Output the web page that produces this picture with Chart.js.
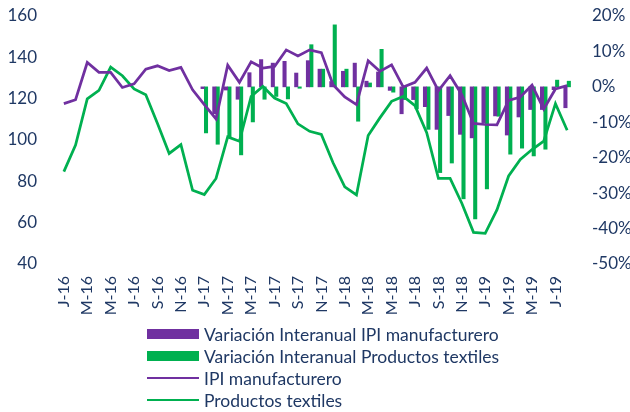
<!DOCTYPE html>
<html>
<head>
<meta charset="utf-8">
<script src="https://cdn.jsdelivr.net/npm/chart.js@4.4.1/dist/chart.umd.min.js"></script>
<style>
  html, body { margin: 0; padding: 0; background: #fff; }
  #wrap { position: relative; width: 630px; height: 412px; }
  canvas { position: absolute; left: 0; top: 0; }
  #legend { position: absolute; left: 147px; top: 323px; font-family: Lato, "Open Sans", sans-serif; font-size: 17.5px; color: #1f3864; }
  .row { height: 22px; display: flex; align-items: center; white-space: nowrap; }
  .sw { width: 52px; margin-right: 5px; }
  .box { height: 10px; }
  .ln { height: 2px; }
</style>
</head>
<body>
<div id="wrap">
  <canvas id="c" width="630" height="412"></canvas>
  <div id="legend"></div>
</div>
<script>
// Categories (monthly, Jan 2016 - Aug 2019)
const categories = [
  "J-16","F-16","M-16","A-16","M-16","J-16","J-16","A-16","S-16","O-16","N-16","D-16",
  "J-17","F-17","M-17","A-17","M-17","J-17","J-17","A-17","S-17","O-17","N-17","D-17",
  "J-18","F-18","M-18","A-18","M-18","J-18","J-18","A-18","S-18","O-18","N-18","D-18",
  "J-19","F-19","M-19","A-19","M-19","J-19","J-19","A-19"
];

// IPI manufacturero (left axis)
const ipiManufacturero = [
  117.6,119.5,137.5,132.7,132.7,125.4,127.2,134.3,135.9,133.6,135.1,124.3,
  117.1,110.2,136.2,127.9,137.8,134.8,135.6,143.6,140.7,143.6,142.3,126.7,
  120.8,117.1,138.3,133.2,136.4,125.6,127.9,134.8,123.9,131.1,121.9,108.0,
  107.5,107.3,119.2,120.8,126.6,115.0,124.7,126.3
];

// Productos textiles (left axis)
const productosTextiles = [
  84.7,97.5,119.9,124.0,135.3,131.1,124.7,121.9,108.0,93.5,97.8,75.7,
  73.6,81.4,101.5,99.4,121.1,125.9,120.3,117.6,107.8,104.2,102.7,89.0,
  77.3,73.4,102.2,110.7,118.7,121.1,116.6,103.5,81.4,81.4,69.4,55.3,
  54.8,66.2,82.6,90.6,95.4,99.4,117.6,104.7
];

// Variación interanual IPI manufacturero (%; right axis)
const varIPI = [
  null,null,null,null,null,null,null,null,null,null,null,null,
  -0.5,-7.6,-0.9,-3.5,4.0,7.7,6.7,7.2,3.9,7.4,5.0,1.5,
  4.4,6.7,1.6,4.2,-1.0,-7.6,-3.6,-5.6,-12.0,-8.1,-13.4,-14.4,
  -10.1,-8.2,-13.6,-8.5,-6.4,-6.4,-0.8,-5.9
];

// Variación interanual Productos textiles (%; right axis)
const varTextiles = [
  null,null,null,null,null,null,null,null,null,null,null,null,
  -13.0,-16.2,-14.2,-19.2,-9.9,-3.5,-2.7,-3.4,-0.4,11.9,5.0,17.5,
  5.0,-9.7,1.1,10.6,-1.5,-3.6,-6.2,-12.0,-24.2,-21.5,-31.6,-37.3,
  -28.8,-8.3,-19.0,-17.3,-19.5,-17.6,1.9,1.6
];

// Tick ranges
const leftTicks = { min: 40, max: 160, step: 20 };
const rightTicks = { min: -50, max: 20, step: 10 };

const seriesNames = [
  "Variación Interanual IPI manufacturero",
  "Variación Interanual Productos textiles",
  "IPI manufacturero",
  "Productos textiles"
];

const PURPLE = "#7030a0";
const GREEN = "#00b050";
const TEXT = "#1f3864";
const FONT_Y = { family: "Lato, 'Open Sans', sans-serif", size: 17 };
const FONT_X = { family: "Lato, 'Open Sans', sans-serif", size: 16 };

function fixY(width) {
  return function (s) { s.width = width; s.paddingTop = 0; s.paddingBottom = 0; };
}

const ctx = document.getElementById("c").getContext("2d");
const chart = new Chart(ctx, {
  data: {
    labels: categories,
    datasets: [
      { type: "bar", label: seriesNames[0], data: varIPI, yAxisID: "y1",
        backgroundColor: PURPLE, barThickness: 3.4, order: 3 },
      { type: "bar", label: seriesNames[1], data: varTextiles, yAxisID: "y1",
        backgroundColor: GREEN, barThickness: 3.4, order: 4 },
      { type: "line", label: seriesNames[2], data: ipiManufacturero, yAxisID: "y",
        borderColor: PURPLE, borderWidth: 2.75, pointRadius: 0, tension: 0, order: 1 },
      { type: "line", label: seriesNames[3], data: productosTextiles, yAxisID: "y",
        borderColor: GREEN, borderWidth: 2.75, pointRadius: 0, tension: 0, order: 2 }
    ]
  },
  options: {
    responsive: false,
    animation: false,
    layout: { padding: { top: 16, bottom: 97, left: 0, right: 0 } },
    plugins: { legend: { display: false }, tooltip: { enabled: false } },
    scales: {
      x: {
        offset: true,
        grid: { display: false, drawTicks: false },
        border: { display: false },
        ticks: {
          autoSkip: false, minRotation: 90, maxRotation: 90, padding: 12,
          color: TEXT, font: FONT_X,
          callback: function (v, i) { return i % 2 === 0 ? categories[i] : ""; }
        },
        afterFit: function (s) { s.height = 51; }
      },
      y: {
        position: "left",
        min: leftTicks.min, max: leftTicks.max,
        grid: { display: false, drawTicks: false },
        border: { display: false },
        ticks: { stepSize: leftTicks.step, padding: 21, color: TEXT, font: FONT_Y },
        afterFit: fixY(58)
      },
      y1: {
        position: "right",
        min: rightTicks.min, max: rightTicks.max,
        grid: { display: false, drawTicks: false },
        border: { display: false },
        ticks: { stepSize: rightTicks.step, padding: 19, color: TEXT, font: FONT_Y,
          callback: function (v) { return v + "%"; } },
        afterFit: fixY(57)
      }
    }
  }
});

// HTML legend built from the chart's datasets
const legend = document.getElementById("legend");
chart.data.datasets.forEach(function (ds) {
  const row = document.createElement("div");
  row.className = "row";
  const sw = document.createElement("div");
  sw.className = "sw " + (ds.type === "bar" ? "box" : "ln");
  sw.style.background = ds.type === "bar" ? ds.backgroundColor : ds.borderColor;
  const tx = document.createElement("span");
  tx.textContent = ds.label;
  row.appendChild(sw);
  row.appendChild(tx);
  legend.appendChild(row);
});
</script>
</body>
</html>
